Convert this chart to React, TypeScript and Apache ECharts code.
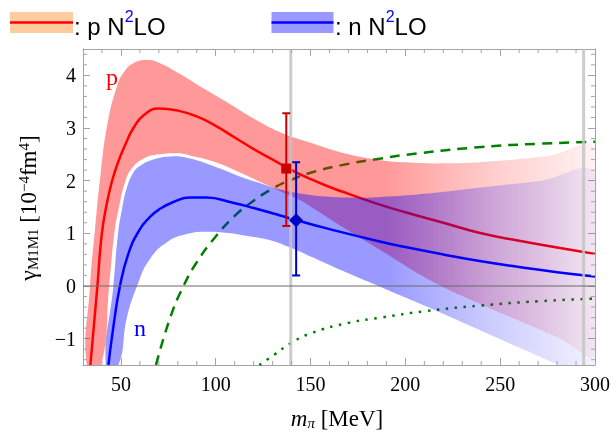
import { useEffect, useRef } from 'react';
import * as echarts from 'echarts';

// ---- axis ranges and ticks ----
const X_MIN = 30;
const X_MAX = 300;
const Y_MIN = -1.5;
const Y_MAX = 4.5;
const xMajor = [50, 100, 150, 200, 250, 300];
const xMinor = [40, 60, 70, 80, 90, 110, 120, 130, 140, 160, 170, 180, 190, 210, 220, 230, 240, 260, 270, 280, 290];
const yMajor = [-1, 0, 1, 2, 3, 4];
const yMinor = [-1.4, -1.2, -0.8, -0.6, -0.4, -0.2, 0.2, 0.4, 0.6, 0.8, 1.2, 1.4, 1.6, 1.8, 2.2, 2.4, 2.6, 2.8, 3.2, 3.4, 3.6, 3.8, 4.2, 4.4];

// ---- proton N2LO (central curve and band) ----
const pCentral = [[33.9, -1.5], [37.6, 0], [39.8, 0.95], [42.2, 1.5], [45, 1.95], [48.5, 2.35], [52.5, 2.7], [56.6, 3.0], [62, 3.24], [69.8, 3.37], [80, 3.33], [90, 3.22], [100, 3.04], [110, 2.82], [120, 2.6], [130, 2.4], [140, 2.2], [150, 2.03], [160, 1.88], [170, 1.75], [187, 1.54], [200, 1.4], [220, 1.2], [240, 1.0], [260, 0.86], [280, 0.73], [300, 0.61]];
const pUpper = [[32, -1.5], [33.7, 0], [36.3, 1.06], [39.5, 2.2], [43, 3.1], [47.8, 3.78], [52, 4.08], [57, 4.24], [63.6, 4.29], [70, 4.24], [80, 4.05], [95, 3.72], [104, 3.53], [120, 3.18], [134, 2.92], [150, 2.72], [170, 2.5], [187, 2.39], [200, 2.35], [222, 2.33], [250, 2.38], [275, 2.47], [300, 2.58]];
const pLower = [[39.5, -1.5], [43.8, 0], [46.5, 1.0], [49, 1.5], [52, 1.95], [55.5, 2.22], [62, 2.42], [70, 2.5], [80, 2.52], [86.5, 2.48], [100, 2.35], [113, 2.15], [125, 1.95], [134, 1.8], [145, 1.62], [150, 1.51], [170, 1.05], [187, 0.68], [213, 0.11], [240, -0.35], [260, -0.66], [280, -0.97], [300, -1.28]];

// ---- neutron N2LO ----
const nCentral = [[43.4, -1.5], [46, -0.78], [49.5, 0], [54, 0.62], [59.7, 1.06], [65, 1.3], [70, 1.45], [78, 1.6], [86.5, 1.68], [95, 1.68], [109, 1.58], [120, 1.48], [134, 1.34], [142.5, 1.25], [160, 1.08], [187, 0.84], [200, 0.74], [220, 0.6], [240, 0.47], [260, 0.36], [280, 0.26], [300, 0.18]];
const nUpper = [[42, -1.5], [46, 0], [48.5, 1.0], [50.5, 1.45], [53, 1.85], [56.5, 2.15], [60, 2.28], [66, 2.39], [76, 2.46], [86.5, 2.42], [100, 2.26], [115, 2.05], [123.5, 1.95], [134, 1.83], [150, 1.73], [170, 1.68], [187, 1.69], [210, 1.75], [240, 1.87], [270, 1.99], [300, 2.1]];
const nLower = [[48.6, -1.5], [53, -0.62], [58.5, 0], [65, 0.5], [75, 0.85], [86.5, 1.0], [95, 1.03], [105, 1.01], [115, 0.96], [128.8, 0.87], [140, 0.72], [150, 0.56], [170, 0.24], [187, -0.02], [213, -0.42], [240, -0.85], [260, -1.17], [275, -1.41], [290, -1.64], [300, -1.8]];

// ---- green comparison curves ----
const greenDashed = [[68.5, -1.5], [76, -0.6], [83, 0], [90, 0.45], [100, 0.94], [110, 1.33], [120, 1.62], [130.5, 1.86], [139.4, 2.01], [150, 2.15], [170, 2.32], [187, 2.42], [200, 2.49], [240, 2.64], [270, 2.7], [300, 2.74]];
const greenDotted = [[123, -1.5], [131, -1.3], [139, -1.1], [150, -0.9], [170, -0.7], [187, -0.6], [210, -0.48], [240, -0.37], [270, -0.29], [300, -0.24]];

// ---- data points with error bars: [x, value, low, high] ----
const pPoint = [137.2, 2.23, 1.14, 3.28];
const nPoint = [142.4, 1.25, 0.2, 2.35];

// ---- vertical reference lines (pion masses) ----
const refMasses = [139.57, 294];

const SERIF = "'Liberation Serif', 'Times New Roman', serif";
const SANS = "'Liberation Sans', Arial, sans-serif";
const FRAME = '#a3a3a3';

function band(upper: number[][], lower: number[][], rgb: string, z: number) {
  return {
    type: 'custom',
    coordinateSystem: 'cartesian2d',
    silent: true,
    clip: true,
    z,
    data: [upper[0]],
    encode: { x: 0, y: 1 },
    renderItem: (_p: any, api: any) => {
      const pts = upper.map((p) => api.coord(p)).concat(lower.slice().reverse().map((p) => api.coord(p)));
      const a = api.coord([190, 0]);
      const b = api.coord([X_MAX, 0]);
      return {
        type: 'polygon',
        shape: { points: pts, smooth: 0.45 },
        style: {
          fill: new echarts.graphic.LinearGradient(a[0], 0, b[0], 0, [
            { offset: 0, color: `rgba(${rgb},0.4)` },
            { offset: 0.5, color: `rgba(${rgb},0.2)` },
            { offset: 1, color: `rgba(${rgb},0.05)` },
          ], true),
        },
      };
    },
  };
}

function curve(data: number[][], color: string, z: number, type: any = 'solid', width = 2.5) {
  return {
    type: 'line',
    data,
    showSymbol: false,
    smooth: 0.5,
    clip: true,
    silent: true,
    z,
    lineStyle: { color, width, type, cap: 'butt' },
  };
}

function errPoint(pt: number[], color: string, marker: 'square' | 'diamond') {
  return {
    type: 'custom',
    coordinateSystem: 'cartesian2d',
    silent: true,
    clip: false,
    z: 8,
    data: [pt],
    encode: { x: 0, y: 1 },
    renderItem: (_p: any, api: any) => {
      const x = api.value(0);
      const c = api.coord([x, api.value(1)]);
      const lo = api.coord([x, api.value(2)]);
      const hi = api.coord([x, api.value(3)]);
      const st = { stroke: color, lineWidth: 2 };
      const children: any[] = [
        { type: 'line', shape: { x1: c[0], y1: lo[1], x2: c[0], y2: hi[1] }, style: st },
        { type: 'line', shape: { x1: c[0] - 4, y1: lo[1], x2: c[0] + 4, y2: lo[1] }, style: st },
        { type: 'line', shape: { x1: c[0] - 4, y1: hi[1], x2: c[0] + 4, y2: hi[1] }, style: st },
      ];
      if (marker === 'square') {
        children.push({ type: 'rect', shape: { x: c[0] - 5, y: c[1] - 5, width: 10, height: 10 }, style: { fill: color } });
      } else {
        children.push({ type: 'polygon', shape: { points: [[c[0], c[1] - 7], [c[0] + 7, c[1]], [c[0], c[1] + 7], [c[0] - 7, c[1]]] }, style: { fill: color } });
      }
      return { type: 'group', children };
    },
  };
}

export default function App() {
  const ref = useRef<HTMLDivElement>(null);
  useEffect(() => {
    if (!ref.current) return;
    const chart = echarts.init(ref.current, undefined, { renderer: 'svg' });
    const tickStyle = { color: FRAME, width: 1 };
    const xAxisBase = {
      type: 'value', min: X_MIN, max: X_MAX,
      axisLine: { show: true, onZero: false, lineStyle: { color: FRAME, width: 1 } },
      axisTick: { show: true, inside: true, length: 7, customValues: xMajor, lineStyle: tickStyle },
      splitLine: { show: false },
    };
    const yAxisBase = {
      type: 'value', min: Y_MIN, max: Y_MAX,
      axisLine: { show: true, onZero: false, lineStyle: { color: FRAME, width: 1 } },
      axisTick: { show: true, inside: true, length: 7, customValues: yMajor, lineStyle: tickStyle },
      splitLine: { show: false },
    };
    const legendRich = {
      t: { fontFamily: SANS, fontSize: 24, fill: '#000', lineHeight: 30, verticalAlign: 'bottom' },
      s: { fontFamily: SANS, fontSize: 16, fill: '#0000ff', lineHeight: 8, verticalAlign: 'top' },
    };
    const option: any = {
      animation: false,
      grid: { left: 83, right: 21, top: 49, bottom: 70, containLabel: false },
      xAxis: [
        { ...xAxisBase, position: 'bottom', axisLabel: { customValues: xMajor, color: '#000', fontFamily: SERIF, fontSize: 20, margin: 9 } },
        { ...xAxisBase, position: 'top', axisLabel: { show: false } },
      ],
      yAxis: [
        { ...yAxisBase, position: 'left', axisLabel: { customValues: yMajor, color: '#000', fontFamily: SERIF, fontSize: 20, margin: 7, formatter: (v: number) => (v < 0 ? '\u2212' + Math.abs(v) : String(v)) } },
        { ...yAxisBase, position: 'right', axisLabel: { show: false } },
      ],
      series: [
        curve(greenDashed, '#008000', 1, [10, 7]),
        curve(greenDotted, '#008000', 1, [2.5, 6.5]),
        band(pUpper, pLower, '255,0,0', 2),
        curve(pCentral, '#ff0000', 3),
        band(nUpper, nLower, '0,0,255', 4),
        curve(nCentral, '#0000ff', 5),
        {
          type: 'custom', coordinateSystem: 'cartesian2d', silent: true, clip: true, z: 6,
          data: refMasses.map((v) => [v, 0]), encode: { x: 0, y: 1 },
          renderItem: (_p: any, api: any) => {
            const v = api.value(0);
            const b = api.coord([v, Y_MIN]);
            const t = api.coord([v, Y_MAX]);
            return { type: 'line', shape: { x1: b[0], y1: b[1], x2: t[0], y2: t[1] }, style: { stroke: 'rgba(195,195,195,0.85)', lineWidth: 3 } };
          },
        },
        { ...curve([[X_MIN, 0], [X_MAX, 0]], '#6a6a6a', 7, 'solid', 1.2), smooth: false },
        errPoint(pPoint, '#c80000', 'square'),
        errPoint(nPoint, '#0000c8', 'diamond'),
        {
          type: 'custom', coordinateSystem: 'cartesian2d', silent: true, clip: false, z: 9,
          data: xMinor.map((v) => [v, 0]), encode: { x: 0, y: 1 },
          renderItem: (_p: any, api: any) => {
            const v = api.value(0);
            const b = api.coord([v, Y_MIN]);
            const t = api.coord([v, Y_MAX]);
            const st = { stroke: FRAME, lineWidth: 1 };
            return { type: 'group', children: [
              { type: 'line', shape: { x1: b[0], y1: b[1], x2: b[0], y2: b[1] - 4 }, style: st },
              { type: 'line', shape: { x1: t[0], y1: t[1], x2: t[0], y2: t[1] + 4 }, style: st },
            ] };
          },
        },
        {
          type: 'custom', coordinateSystem: 'cartesian2d', silent: true, clip: false, z: 9,
          data: yMinor.map((v) => [X_MIN, v]), encode: { x: 0, y: 1 },
          renderItem: (_p: any, api: any) => {
            const v = api.value(1);
            const l = api.coord([X_MIN, v]);
            const r = api.coord([X_MAX, v]);
            const st = { stroke: FRAME, lineWidth: 1 };
            return { type: 'group', children: [
              { type: 'line', shape: { x1: l[0], y1: l[1], x2: l[0] + 4, y2: l[1] }, style: st },
              { type: 'line', shape: { x1: r[0], y1: r[1], x2: r[0] - 4, y2: r[1] }, style: st },
            ] };
          },
        },
      ],
      graphic: [
        // legend
        { type: 'rect', shape: { x: 10, y: 12, width: 63, height: 21 }, style: { fill: '#ffcca0' } },
        { type: 'line', shape: { x1: 10, y1: 22.5, x2: 73, y2: 22.5 }, style: { stroke: '#ff0000', lineWidth: 2.5 } },
        { type: 'text', x: 74, y: 23.5, style: { text: '{t|: p N}{s|2}{t|LO}', align: 'left', verticalAlign: 'middle', rich: legendRich } },
        { type: 'rect', shape: { x: 271.5, y: 12, width: 62, height: 21 }, style: { fill: '#9999ff' } },
        { type: 'line', shape: { x1: 271.5, y1: 22.5, x2: 333.5, y2: 22.5 }, style: { stroke: '#0000ff', lineWidth: 2.5 } },
        { type: 'text', x: 335, y: 23.5, style: { text: '{t|: n N}{s|2}{t|LO}', align: 'left', verticalAlign: 'middle', rich: legendRich } },
        // curve labels
        { type: 'text', x: 112, y: 77, style: { text: 'p', fontFamily: SERIF, fontSize: 24, fill: '#ff0000', align: 'center', verticalAlign: 'middle' } },
        { type: 'text', x: 140, y: 328, style: { text: 'n', fontFamily: SERIF, fontSize: 24, fill: '#0000ff', align: 'center', verticalAlign: 'middle' } },
        // x axis title
        {
          type: 'text', x: 337, y: 418,
          style: {
            text: '{m|m}{s|\u03c0}{t| [MeV]}', align: 'center', verticalAlign: 'middle',
            rich: {
              m: { fontFamily: SERIF, fontSize: 23, fontStyle: 'italic', fill: '#000', lineHeight: 24 },
              s: { fontFamily: SERIF, fontSize: 15, fontStyle: 'italic', fill: '#000', lineHeight: 8, verticalAlign: 'bottom' },
              t: { fontFamily: SERIF, fontSize: 23, fill: '#000', lineHeight: 24 },
            },
          },
        },
        // y axis title
        {
          type: 'text', x: 28, y: 208, rotation: Math.PI / 2,
          style: {
            text: '{g|\u03b3}{s|M1M1}{t| [10}{p|\u22124}{t|fm}{p|4}{t|]}', align: 'center', verticalAlign: 'middle',
            rich: {
              g: { fontFamily: SERIF, fontSize: 24, fill: '#000', lineHeight: 24 },
              s: { fontFamily: SERIF, fontSize: 15, fill: '#000', lineHeight: 12, verticalAlign: 'bottom' },
              t: { fontFamily: SERIF, fontSize: 23, fill: '#000', lineHeight: 24 },
              p: { fontFamily: SERIF, fontSize: 15, fill: '#000', lineHeight: 6, verticalAlign: 'top' },
            },
          },
        },
      ],
    };
    chart.setOption(option);
    return () => chart.dispose();
  }, []);
  return <div ref={ref} style={{ position: 'fixed', left: 0, top: 0, width: 616, height: 435 }} />;
}
